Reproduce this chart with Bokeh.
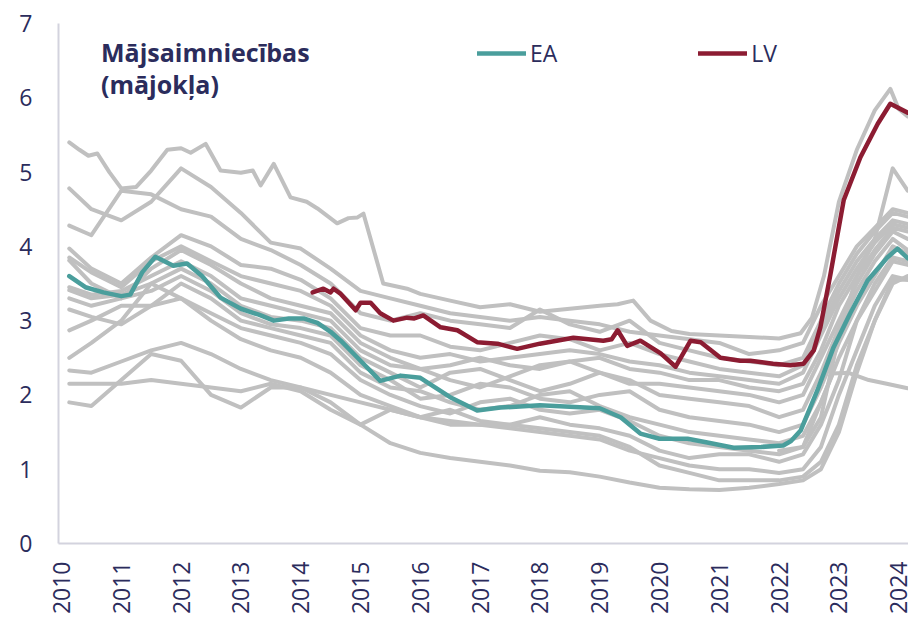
import math
from bokeh.plotting import figure
from bokeh.models import FixedTicker, Legend, LegendItem, Label, Range1d
from bokeh.embed import file_html
from bokeh.resources import INLINE

# ---------------- data ----------------
tick_years = [2010, 2011, 2012, 2013, 2014, 2015, 2016, 2017, 2018, 2019, 2020, 2021, 2022, 2023, 2024]
tick_labels = ["2010", "2011", "2012", "2013", "2014", "2015", "2016", "2017", "2018", "2019",
               "2020", "2021", "2022", "2023", "2024"]
y_ticks = [0, 1, 2, 3, 4, 5, 6, 7]

years_grid = [2010.13, 2010.5, 2011.0, 2011.5, 2012.0, 2012.5, 2013.0, 2013.5, 2014.0, 2014.5,
              2015.0, 2015.5, 2016.0, 2016.5, 2017.0, 2017.5, 2018.0, 2018.5, 2019.0, 2019.5,
              2020.0, 2020.5, 2021.0, 2021.5, 2022.0, 2022.4, 2022.7, 2023.0, 2023.3, 2023.6,
              2023.9, 2024.15]

grey_02 = [4.78, 4.50, 4.35, 4.60, 5.05, 4.80, 4.45, 4.05, 3.97, 3.70, 3.40, 3.30, 3.20, 3.10, 3.05, 3.00,
           3.05, 3.00, 2.95, 2.85, 2.80, 2.75, 2.70, 2.55, 2.60, 2.70, 3.20, 3.60, 4.00, 4.25, 4.50, 4.45]
grey_03 = [4.28, 4.15, 4.75, 4.70, 4.50, 4.40, 4.10, 3.95, 3.75, 3.50, 3.10, 3.00, 3.10, 3.00, 2.95, 2.90,
           3.15, 2.95, 2.85, 3.00, 2.70, 2.60, 2.50, 2.45, 2.40, 2.50, 3.00, 3.50, 3.90, 4.20, 4.45, 4.40]
grey_04 = [3.97, 3.70, 3.50, 3.85, 4.15, 4.00, 3.75, 3.70, 3.55, 3.30, 2.90, 2.80, 2.80, 2.65, 2.60, 2.70,
           2.80, 2.75, 2.60, 2.70, 2.55, 2.45, 2.35, 2.30, 2.25, 2.40, 2.90, 3.40, 3.80, 4.10, 4.35, 4.30]
grey_05 = [3.85, 3.65, 3.45, 3.80, 4.00, 3.80, 3.60, 3.50, 3.40, 3.20, 2.80, 2.60, 2.50, 2.55, 2.45, 2.50,
           2.55, 2.60, 2.55, 2.45, 2.40, 2.30, 2.25, 2.20, 2.15, 2.30, 2.80, 3.30, 3.70, 4.05, 4.30, 4.25]
grey_06 = [3.81, 3.50, 3.30, 3.70, 3.95, 3.75, 3.50, 3.30, 3.20, 3.10, 2.70, 2.50, 2.35, 2.40, 2.50, 2.40,
           2.35, 2.45, 2.50, 2.35, 2.30, 2.20, 2.20, 2.10, 2.05, 2.15, 2.60, 3.20, 3.60, 3.95, 4.25, 4.20]
grey_07 = [3.45, 3.35, 3.40, 3.60, 3.80, 3.60, 3.30, 3.20, 3.10, 3.00, 2.60, 2.40, 2.35, 2.20, 2.10, 2.25,
           2.40, 2.45, 2.30, 2.15, 2.15, 2.10, 2.05, 2.00, 1.90, 2.00, 2.50, 3.00, 3.50, 3.90, 4.20, 4.10]
grey_08 = [3.41, 3.30, 3.35, 3.50, 3.70, 3.50, 3.20, 3.05, 3.00, 2.90, 2.50, 2.30, 2.10, 2.30, 2.35, 2.20,
           2.05, 2.15, 2.30, 2.20, 2.00, 1.95, 1.90, 1.85, 1.70, 1.80, 2.30, 2.90, 3.40, 3.80, 4.10, 3.95]
grey_09 = [3.30, 3.20, 3.30, 3.40, 3.60, 3.40, 3.10, 2.95, 2.90, 2.80, 2.40, 2.20, 1.95, 2.00, 2.15, 2.10,
           1.95, 1.90, 2.00, 2.05, 1.80, 1.70, 1.65, 1.60, 1.50, 1.60, 2.10, 2.70, 3.20, 3.60, 4.00, 3.90]
grey_10 = [2.87, 3.00, 3.20, 3.20, 3.50, 3.30, 3.00, 2.90, 2.80, 2.70, 2.30, 2.10, 2.05, 1.90, 1.80, 1.85,
           2.00, 2.05, 1.85, 1.70, 1.60, 1.50, 1.45, 1.40, 1.35, 1.45, 1.90, 2.50, 3.00, 3.40, 3.80, 3.75]
grey_11 = [2.50, 2.70, 3.00, 3.50, 3.30, 3.10, 2.90, 2.80, 2.70, 2.55, 2.20, 2.00, 1.85, 1.75, 1.90, 1.95,
           1.80, 1.75, 1.80, 1.65, 1.45, 1.35, 1.30, 1.25, 1.20, 1.30, 1.70, 2.80, 3.60, 4.10, 5.05, 4.75]
grey_12 = [2.33, 2.30, 2.45, 2.60, 2.70, 2.55, 2.35, 2.20, 2.10, 1.90, 1.60, 1.35, 1.22, 1.15, 1.10, 1.05,
           0.98, 0.96, 0.90, 0.82, 0.75, 0.73, 0.72, 0.75, 0.80, 0.85, 1.00, 1.50, 2.30, 3.00, 3.50, 3.60]
grey_13 = [1.90, 1.85, 2.20, 2.55, 2.46, 2.00, 1.83, 2.10, 2.10, 2.00, 1.90, 1.80, 1.70, 1.60, 1.60, 1.60,
           1.55, 1.50, 1.45, 1.30, 1.05, 0.95, 0.85, 0.85, 0.85, 0.90, 1.10, 1.60, 2.40, 3.00, 3.55, 3.55]
grey_14 = [2.15, 2.15, 2.15, 2.20, 2.15, 2.10, 2.05, 2.15, 2.05, 1.80, 1.60, 1.80, 1.70, 1.65, 1.60, 1.55,
           1.50, 1.45, 1.40, 1.25, 1.15, 1.05, 1.00, 1.00, 0.95, 1.00, 1.30, 2.00, 2.60, 3.20, 3.60, 3.55]
grey_15 = [3.15, 3.05, 2.95, 3.20, 3.30, 3.00, 2.75, 2.60, 2.50, 2.30, 2.00, 1.85, 1.70, 1.80, 1.65, 1.60,
           1.70, 1.60, 1.55, 1.45, 1.25, 1.15, 1.20, 1.20, 1.10, 1.20, 1.60, 2.20, 3.00, 3.50, 3.85, 3.80]

grey_top_years = [2010.13, 2010.3, 2010.45, 2010.6, 2010.8, 2011.0, 2011.25, 2011.5, 2011.77, 2012.0,
                  2012.16, 2012.41, 2012.66, 2013.0, 2013.2, 2013.33, 2013.55, 2013.83, 2014.1, 2014.28,
                  2014.61, 2014.8, 2014.95, 2015.05, 2015.38, 2015.78, 2016.0, 2016.5, 2017.0, 2017.5,
                  2018.0, 2018.5, 2019.0, 2019.3, 2019.56, 2019.85, 2020.2, 2020.5, 2021.0, 2021.5,
                  2022.0, 2022.36, 2022.55, 2022.75, 2023.0, 2023.3, 2023.6, 2023.86, 2024.0, 2024.15]
grey_top = [5.40, 5.30, 5.22, 5.25, 5.00, 4.78, 4.80, 5.02, 5.30, 5.32,
            5.26, 5.38, 5.02, 4.99, 5.02, 4.82, 5.11, 4.66, 4.60, 4.51,
            4.31, 4.38, 4.39, 4.44, 3.50, 3.43, 3.36, 3.27, 3.18, 3.22,
            3.12, 3.16, 3.20, 3.22, 3.27, 3.00, 2.86, 2.82, 2.80, 2.78,
            2.76, 2.83, 3.04, 3.60, 4.60, 5.30, 5.83, 6.12, 5.85, 5.75]

grey_short_years = [2022.0, 2022.4, 2022.65, 2022.9, 2023.15, 2023.5, 2023.8, 2024.15]
grey_short = [1.25, 1.30, 1.80, 2.29, 2.30, 2.20, 2.15, 2.09]

ea_years = [2010.13, 2010.4, 2010.7, 2011.0, 2011.15, 2011.35, 2011.57, 2011.87, 2012.1, 2012.35,
            2012.66, 2013.0, 2013.3, 2013.55, 2013.8, 2014.05, 2014.28, 2014.5, 2014.67, 2015.0,
            2015.33, 2015.67, 2016.0, 2016.5, 2016.95, 2017.34, 2018.0, 2018.5, 2019.0, 2019.35,
            2019.68, 2020.0, 2020.47, 2020.8, 2021.24, 2021.7, 2022.07, 2022.2, 2022.36, 2022.64,
            2022.91, 2023.19, 2023.48, 2023.81, 2023.98, 2024.15]
ea_vals = [3.60, 3.45, 3.38, 3.33, 3.35, 3.65, 3.86, 3.74, 3.77, 3.60,
           3.31, 3.16, 3.08, 3.00, 3.03, 3.03, 2.97, 2.85, 2.73, 2.46,
           2.19, 2.26, 2.23, 1.97, 1.79, 1.83, 1.86, 1.84, 1.82, 1.70,
           1.48, 1.41, 1.41, 1.36, 1.29, 1.30, 1.32, 1.38, 1.52, 2.06,
           2.64, 3.10, 3.54, 3.85, 3.97, 3.84]

lv_years = [2014.2, 2014.38, 2014.5, 2014.55, 2014.67, 2014.92, 2015.0, 2015.17, 2015.33, 2015.55,
            2015.78, 2015.9, 2016.05, 2016.34, 2016.62, 2016.95, 2017.29, 2017.62, 2018.0, 2018.56,
            2019.06, 2019.2, 2019.3, 2019.46, 2019.68, 2020.02, 2020.27, 2020.52, 2020.69, 2021.02,
            2021.35, 2021.52, 2021.9, 2022.19, 2022.41, 2022.58, 2022.69, 2022.86, 2023.08, 2023.36,
            2023.65, 2023.86, 2024.15]
lv_vals = [3.38, 3.43, 3.38, 3.43, 3.36, 3.14, 3.24, 3.24, 3.10, 3.00,
           3.04, 3.03, 3.07, 2.91, 2.87, 2.71, 2.69, 2.62, 2.69, 2.77,
           2.73, 2.75, 2.87, 2.66, 2.73, 2.56, 2.38, 2.73, 2.71, 2.50,
           2.46, 2.46, 2.42, 2.40, 2.42, 2.60, 2.91, 3.63, 4.62, 5.20,
           5.65, 5.92, 5.80]

title_line1 = "Mājsaimniecības"
title_line2 = "(mājokļa)"
legend_ea = "EA"
legend_lv = "LV"

# ---------------- styles ----------------
NAVY = "#2b2c5c"
GREY = "#c0c0c0"
TEAL = "#4a9e9c"
RED = "#8c1c32"
AXIS = "#d3d3de"
FONT = "Open Sans"

p = figure(width=908, height=618, x_range=Range1d(2009.95, 2024.164), y_range=Range1d(0, 7),
           output_backend="svg", toolbar_location=None,
           min_border_left=58, min_border_right=0, min_border_top=23, min_border_bottom=75)
p.outline_line_color = None
p.grid.visible = False
p.background_fill_color = "white"
p.border_fill_color = "white"

for ax in (p.xaxis, p.yaxis):
    ax.axis_line_color = AXIS
    ax.axis_line_width = 2
    ax.major_tick_line_color = None
    ax.minor_tick_line_color = None
    ax.major_tick_out = 0
    ax.major_tick_in = 0
    ax.minor_tick_out = 0
    ax.minor_tick_in = 0
    ax.major_label_text_font = FONT
    ax.major_label_text_font_size = "23px"
    ax.major_label_text_color = NAVY

p.xaxis.ticker = FixedTicker(ticks=tick_years)
p.xaxis.major_label_overrides = {y: s for y, s in zip(tick_years, tick_labels)}
p.xaxis.major_label_orientation = math.pi / 2
p.xaxis.major_label_standoff = 18
p.yaxis.ticker = FixedTicker(ticks=y_ticks)
p.yaxis.major_label_standoff = 26

grey_series = [grey_02, grey_03, grey_04, grey_05, grey_06, grey_07, grey_08, grey_09,
               grey_10, grey_11, grey_12, grey_13, grey_14, grey_15]
for s in grey_series:
    p.line(years_grid, s, line_color=GREY, line_width=4, line_join="round", line_cap="round")
p.line(grey_top_years, grey_top, line_color=GREY, line_width=4, line_join="round", line_cap="round")
p.line(grey_short_years, grey_short, line_color=GREY, line_width=4, line_join="round", line_cap="round")

ea_r = p.line(ea_years, ea_vals, line_color=TEAL, line_width=4.5, line_join="round", line_cap="round")
lv_r = p.line(lv_years, lv_vals, line_color=RED, line_width=4.5, line_join="round", line_cap="round")

legend = Legend(items=[LegendItem(label=legend_ea, renderers=[ea_r]),
                       LegendItem(label=legend_lv, renderers=[lv_r])],
                orientation="horizontal", location=(419, 474),
                glyph_width=49, glyph_height=24, label_height=24, label_standoff=4,
                spacing=141, padding=0, margin=0,
                border_line_color=None, background_fill_alpha=0,
                label_text_font=FONT, label_text_font_size="23px", label_text_color=NAVY)
p.add_layout(legend)

p.add_layout(Label(x=2010.66, y=6.61, text=title_line1, text_font=FONT, text_font_style="bold",
                   text_font_size="25px", text_color=NAVY, text_baseline="alphabetic"))
p.add_layout(Label(x=2010.66, y=6.19, text=title_line2, text_font=FONT, text_font_style="bold",
                   text_font_size="25px", text_color=NAVY, text_baseline="alphabetic"))

open("out.html", "w").write(file_html(p, INLINE))
